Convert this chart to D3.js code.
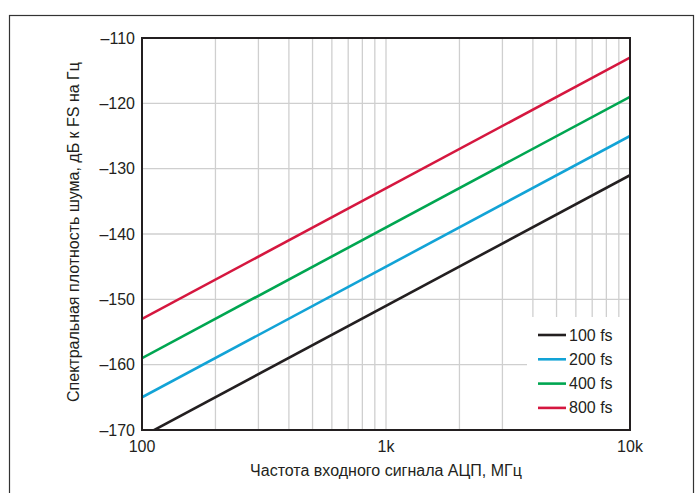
<!DOCTYPE html>
<html><head><meta charset="utf-8">
<script src="https://cdn.jsdelivr.net/npm/d3@7"></script>
<style>body{margin:0;background:#fff}svg{display:block;font-family:"Liberation Sans",Arial,sans-serif}</style>
</head><body>
<script>
const seriesNames = ["100 fs", "200 fs", "400 fs", "800 fs"];
const seriesColors = ["#231f20", "#12a3d6", "#00a651", "#d5173f"];
const freqs = [100, 10000];
const val100 = [-171, -131];
const val200 = [-165, -125];
const val400 = [-159, -119];
const val800 = [-153, -113];
const yTicks = [-170, -160, -150, -140, -130, -120, -110];
const xTicks = [100, 1000, 10000];
const xTickLabels = ["100", "1k", "10k"];

const W = 698, H = 493;
const m = {l:142, r:630, t:38, b:430};
const FS = 16;
const svg = d3.select("body").append("svg").attr("width", W).attr("height", H);
svg.append("rect").attr("x",9.5).attr("y",15.5).attr("width",684).attr("height",490)
  .attr("fill","none").attr("stroke","#333").attr("stroke-width",1.2);

const x = d3.scaleLog().domain([100,10000]).range([m.l,m.r]);
const y = d3.scaleLinear().domain([-170,-110]).range([m.b,m.t]);

const minor = [];
[100,1000].forEach(d=>{for(let k=2;k<=9;k++) minor.push(d*k);});
const grid = svg.append("g");
grid.selectAll("line.v").data(minor.concat([1000])).join("line")
  .attr("x1",d=>x(d)).attr("x2",d=>x(d)).attr("y1",m.t).attr("y2",m.b)
  .attr("stroke","#cfcfcf").attr("stroke-width",1.3);
grid.selectAll("line.h").data(yTicks.slice(1,-1)).join("line")
  .attr("x1",m.l).attr("x2",m.r).attr("y1",d=>y(d)).attr("y2",d=>y(d))
  .attr("stroke","#cfcfcf").attr("stroke-width",1.3);

svg.append("clipPath").attr("id","c").append("rect")
  .attr("x",m.l).attr("y",m.t).attr("width",m.r-m.l).attr("height",m.b-m.t);

const all = [val100,val200,val400,val800];
const line = d3.line().x((d,i)=>x(freqs[i])).y(d=>y(d));
svg.append("g").attr("clip-path","url(#c)").selectAll("path").data(all).join("path")
  .attr("d",d=>line(d)).attr("fill","none")
  .attr("stroke",(d,i)=>seriesColors[i]).attr("stroke-width",2.6);

// legend box
const lg = svg.append("g");
lg.append("rect").attr("x",527).attr("y",317).attr("width",m.r-527).attr("height",m.b-317).attr("fill","#fff");
seriesNames.forEach((n,i)=>{
  const yy = 335 + i*24.3;
  lg.append("line").attr("x1",538).attr("x2",566).attr("y1",yy).attr("y2",yy)
    .attr("stroke",seriesColors[i]).attr("stroke-width",2.6);
  lg.append("text").attr("x",569).attr("y",yy+5.5).attr("font-size",FS).attr("fill","#231f20").text(n);
});

svg.append("rect").attr("x",m.l).attr("y",m.t).attr("width",m.r-m.l).attr("height",m.b-m.t)
  .attr("fill","none").attr("stroke","#231f20").attr("stroke-width",2);

svg.selectAll("text.yt").data(yTicks).join("text")
  .attr("x",m.l-7).attr("y",d=>y(d)+5.5).attr("text-anchor","end").attr("font-size",FS).attr("fill","#231f20")
  .text(d=>"\u2013"+Math.abs(d));
svg.selectAll("text.xt").data(xTicks).join("text")
  .attr("x",d=>x(d)).attr("y",452).attr("text-anchor","middle").attr("font-size",FS).attr("fill","#231f20")
  .text((d,i)=>xTickLabels[i]);

svg.append("text").attr("x",386).attr("y",476).attr("text-anchor","middle").attr("font-size",FS)
  .attr("fill","#231f20").text("Частота входного сигнала АЦП, МГц");
svg.append("text").attr("transform",`translate(79,232) rotate(-90)`).attr("text-anchor","middle")
  .attr("font-size",FS).attr("fill","#231f20").text("Спектральная плотность шума, дБ к FS на Гц");
</script>
</body></html>
